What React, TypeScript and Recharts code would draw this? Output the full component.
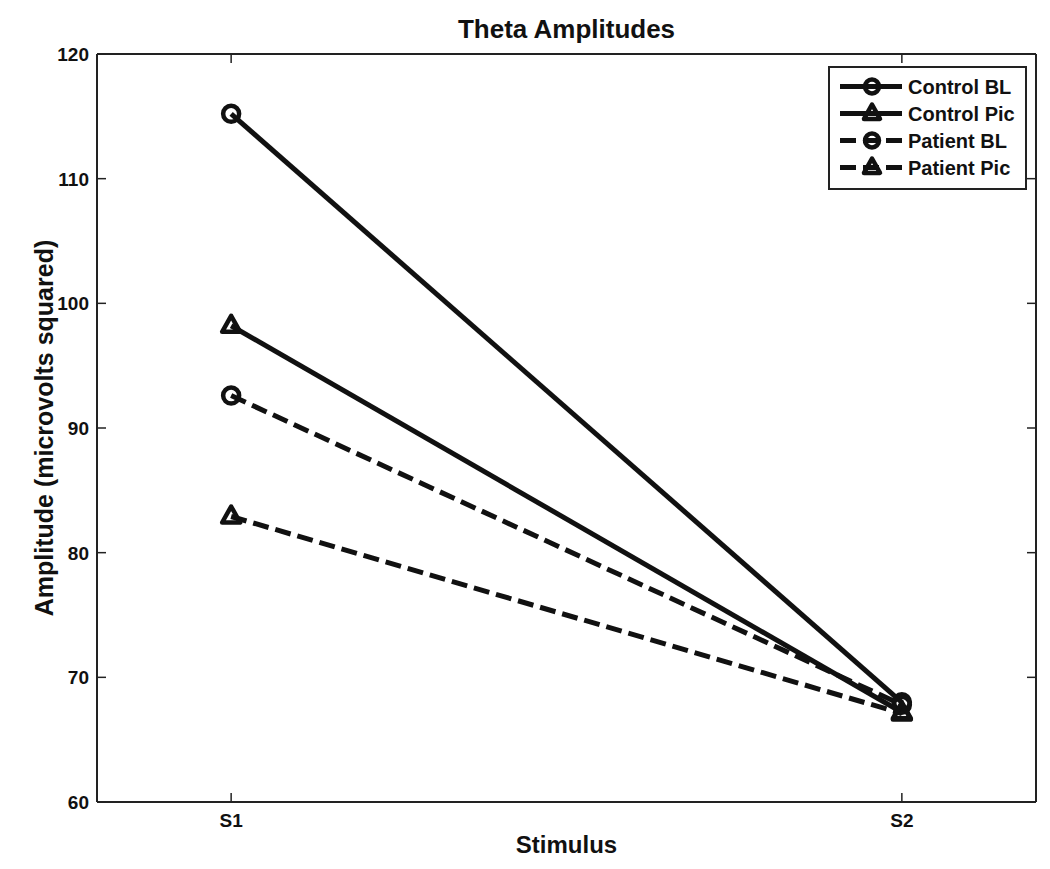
import React from 'react';
import { LineChart, Line, XAxis, YAxis, Legend } from 'recharts';

const stimuli = ['S1', 'S2'];
const controlBL = [115.2, 68.0];
const controlPic = [98.2, 67.2];
const patientBL = [92.6, 67.8];
const patientPic = [82.9, 67.1];
const yTicks = [60, 70, 80, 90, 100, 110, 120];

const FONT = '"Liberation Sans", Arial, Helvetica, sans-serif';
const INK = '#111';
const AXIS = '#222';
const TICK_LEN = 9;

// plot box edges (px) — matches margins + axis sizes below
const BOX = { left: 97, right: 1036, top: 54, bottom: 802 };

type Shape = 'circle' | 'triangle';

const series: { key: string; name: string; values: number[]; shape: Shape; dashed: boolean }[] = [
  { key: 'controlBL', name: 'Control BL', values: controlBL, shape: 'circle', dashed: false },
  { key: 'controlPic', name: 'Control Pic', values: controlPic, shape: 'triangle', dashed: false },
  { key: 'patientBL', name: 'Patient BL', values: patientBL, shape: 'circle', dashed: true },
  { key: 'patientPic', name: 'Patient Pic', values: patientPic, shape: 'triangle', dashed: true },
];

const data = stimuli.map((s, i) => {
  const row: Record<string, number | string> = { x: i + 1, label: s };
  series.forEach((sr) => {
    row[sr.key] = sr.values[i];
  });
  return row;
});

const DASH = '16 7';

const Marker = ({ cx, cy, shape, r = 8 }: { cx?: number; cy?: number; shape: Shape; r?: number }) => {
  if (cx == null || cy == null) return null;
  if (shape === 'circle') {
    return <circle cx={cx} cy={cy} r={r} fill="none" stroke={INK} strokeWidth={4.5} />;
  }
  const h = r + 2;
  return (
    <path
      d={`M${cx},${cy - h}L${cx + h - 1},${cy + h * 0.6}L${cx - h + 1},${cy + h * 0.6}Z`}
      fill="none"
      stroke={INK}
      strokeWidth={4.5}
      strokeLinejoin="round"
    />
  );
};

const LegendBox = () => (
  <div
    style={{
      border: '2px solid #222',
      background: '#fff',
      padding: '5px 4px 7px 10px',
      boxSizing: 'border-box',
      width: 199,
      fontFamily: FONT,
      fontWeight: 'bold',
      fontSize: 20,
      color: INK,
    }}
  >
    {series.map((s) => (
      <div key={s.key} style={{ display: 'flex', alignItems: 'center', height: 27 }}>
        <svg width={62} height={27} style={{ display: 'block' }}>
          <line
            x1={0}
            y1={13.5}
            x2={62}
            y2={13.5}
            stroke={INK}
            strokeWidth={5}
            strokeDasharray={s.dashed ? DASH : undefined}
          />
          <Marker cx={32} cy={13.5} shape={s.shape} r={7} />
        </svg>
        <span style={{ marginLeft: 6, lineHeight: 1 }}>{s.name}</span>
      </div>
    ))}
  </div>
);

const labelFont = { fontFamily: FONT, fontWeight: 'bold' as const, fontSize: 19, fill: INK };

// tick renderers: MATLAB style ticks point into the plot box
const LeftTick = ({ y, payload }: any) => (
  <g>
    <line x1={BOX.left} x2={BOX.left + TICK_LEN} y1={y} y2={y} stroke={AXIS} strokeWidth={1.5} />
    <text x={BOX.left - 8} y={y} dy="0.36em" textAnchor="end" {...labelFont}>
      {payload.value}
    </text>
  </g>
);

const BottomTick = ({ x, payload }: any) => (
  <g>
    <line x1={x} x2={x} y1={BOX.bottom} y2={BOX.bottom - TICK_LEN} stroke={AXIS} strokeWidth={1.5} />
    <text x={x} y={BOX.bottom + 11} dy="0.74em" textAnchor="middle" {...labelFont}>
      {stimuli[payload.value - 1]}
    </text>
  </g>
);

const TopTick = ({ x }: any) => (
  <line x1={x} x2={x} y1={BOX.top} y2={BOX.top + TICK_LEN} stroke={AXIS} strokeWidth={1.5} />
);

const RightTick = ({ y }: any) => (
  <line x1={BOX.right} x2={BOX.right - TICK_LEN} y1={y} y2={y} stroke={AXIS} strokeWidth={1.5} />
);

export default function App() {
  return (
    <div style={{ position: 'absolute', left: 0, top: 0, width: 1050, height: 869, background: '#fff' }}>
      <div
        style={{
          position: 'absolute',
          top: 16,
          left: 97,
          width: 939,
          textAlign: 'center',
          fontFamily: FONT,
          fontWeight: 'bold',
          fontSize: 26,
          lineHeight: 1,
          color: INK,
        }}
      >
        Theta Amplitudes
      </div>
      <LineChart width={1050} height={869} data={data} margin={{ top: 53, right: 13, bottom: 0, left: 0 }}>
        <XAxis
          dataKey="x"
          type="number"
          domain={[0.8, 2.2]}
          ticks={[1, 2]}
          interval={0}
          allowDataOverflow
          height={67}
          tickSize={0}
          tickMargin={11}
          axisLine={{ stroke: AXIS, strokeWidth: 2 }}
          tickLine={false}
          tick={<BottomTick />}
          label={{
            value: 'Stimulus',
            position: 'insideBottom',
            offset: 16,
            style: { fontFamily: FONT, fontWeight: 'bold', fontSize: 24, fill: INK },
          }}
        />
        <XAxis
          xAxisId="top"
          dataKey="x"
          orientation="top"
          type="number"
          domain={[0.8, 2.2]}
          ticks={[1, 2]}
          interval={0}
          allowDataOverflow
          height={1}
          tickSize={0}
          tickMargin={0}
          axisLine={{ stroke: AXIS, strokeWidth: 2 }}
          tickLine={false}
          tick={<TopTick />}
        />
        <YAxis
          type="number"
          domain={[60, 120]}
          ticks={yTicks}
          interval={0}
          allowDataOverflow
          width={97}
          tickSize={0}
          tickMargin={8}
          axisLine={{ stroke: AXIS, strokeWidth: 2 }}
          tickLine={false}
          tick={<LeftTick />}
          label={{
            value: 'Amplitude (microvolts squared)',
            angle: -90,
            position: 'insideLeft',
            offset: 44,
            style: { fontFamily: FONT, fontWeight: 'bold', fontSize: 25, fill: INK, textAnchor: 'middle' },
          }}
        />
        <YAxis
          yAxisId="right"
          orientation="right"
          type="number"
          domain={[60, 120]}
          ticks={yTicks}
          interval={0}
          allowDataOverflow
          width={1}
          tickSize={0}
          tickMargin={0}
          axisLine={{ stroke: AXIS, strokeWidth: 2 }}
          tickLine={false}
          tick={<RightTick />}
        />
        <Legend
          layout="vertical"
          align="center"
          verticalAlign="middle"
          content={() => <LegendBox />}
          wrapperStyle={{ left: 828, top: 66, right: 'auto', bottom: 'auto', width: 199 }}
        />
        {/* invisible series so the mirrored box axes get ticks too */}
        <Line
          xAxisId="top"
          yAxisId="right"
          dataKey="controlBL"
          stroke="none"
          dot={false}
          activeDot={false}
          legendType="none"
          isAnimationActive={false}
        />
        {series.map((s) => (
          <Line
            key={s.key}
            dataKey={s.key}
            name={s.name}
            type="linear"
            stroke={INK}
            strokeWidth={5}
            strokeDasharray={s.dashed ? DASH : undefined}
            isAnimationActive={false}
            dot={(p: any) => <Marker key={`${s.key}-${p.index}`} cx={p.cx} cy={p.cy} shape={s.shape} />}
            activeDot={false}
          />
        ))}
      </LineChart>
    </div>
  );
}
